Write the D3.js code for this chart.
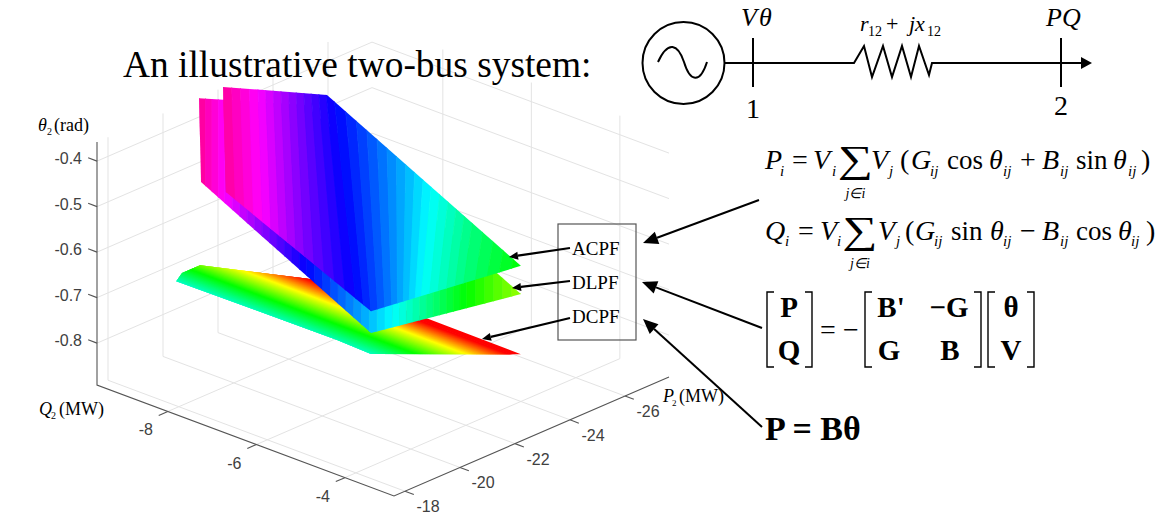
<!DOCTYPE html>
<html><head><meta charset="utf-8">
<script src="https://d3js.org/d3.v7.min.js"></script>
<style>
html,body{margin:0;padding:0;background:#fff}
svg{display:block}
text{font-family:"Liberation Serif",serif;fill:#000}
.tick{font-family:"Liberation Sans",Arial,sans-serif;fill:#404040;font-size:16px}
</style></head><body>
<svg id="c" width="1170" height="521"></svg>
<script>
// ---- axis ticks ----
const thetaTicks=[-0.8,-0.7,-0.6,-0.5,-0.4];
const qTicks=[-8,-6,-4];
const pTicks=[-26,-24,-22,-20,-18];
const thetaRange=[-0.892,-0.358];
const qRange=[-9.6,-2.89];
const pRange=[-17.6,-27.6];

// ---- surface outlines ----
const acpfP=[-21.86,-24,-24,-18.55,-18.55];
const acpfQ=[-9.4,-8.38,-4,-4,-7.28];
const acpfTheta=[-0.341,-0.378,-0.594,-0.551,-0.4085];

const dlpfP=[-20.99,-24,-24,-18.55,-18.55];
const dlpfQ=[-9.4,-8.88,-4,-4,-7.84];
const dlpfTheta=[-0.343,-0.418,-0.656,-0.599,-0.407];

const dcpfP=[-18.55,-19.55,-20.98,-24.15,-24,-18.55,-18.67];
const dcpfQ=[-8.4,-8.89,-9.37,-8.4,-4,-4,-4.84];
const dcpfTheta=[-0.645,-0.671,-0.709,-0.792,-0.788,-0.645,-0.648];

// ---- colour contours: hue, share of surface width at its top and bottom ----
const acpfHues=[323,300,270,240,210,180,150,120];
const acpfUpper=[0,.117,.245,.369,.544,.73,.90,1.12];
const acpfLower=[.023,.144,.282,.45,.567,.661,.795,.98];

const dlpfHues=[325,300,240,180,120,85];
const dlpfUpper=[0,.08,.335,.602,.832,1];
const dlpfLower=[0,.08,.335,.602,.832,1];

const dcpfHues=[170,120,60,0,0];
const dcpfUpper=[-.133,.011,.156,.28,.6];
const dcpfLower=[.555,.699,.844,.968,1.3];

const solverNames=["ACPF","DLPF","DCPF"];

// ---- projection ----
const ox=97, oy=385;
const qX=d3.scaleLinear().domain(qRange).range([0,297]);
const qY=d3.scaleLinear().domain(qRange).range([0,111]);
const pX=d3.scaleLinear().domain(pRange).range([0,275]);
const pY=d3.scaleLinear().domain(pRange).range([0,-119]);
const tY=d3.scaleLinear().domain(thetaRange).range([0,-243]);
const proj=(p,q,t)=>[ox+qX(q)+pX(p), oy+qY(q)+pY(p)+tY(t)];

const svg=d3.select("#c");
const defs=svg.append("defs");
defs.append("clipPath").attr("id","gridClip").append("rect")
  .attr("x",0).attr("y",41).attr("width",1170).attr("height",480);
const line=d3.line();

// ---- grid ----
const [tMin,tMax]=thetaRange,[qMin,qMax]=qRange,[pNear,pFar]=pRange;
const gridSegs=[];
thetaTicks.forEach(t=>gridSegs.push([[pNear,qMin,t],[pFar,qMin,t],[pFar,qMax,t]]));
pTicks.forEach(p=>gridSegs.push([[p,qMax,tMin],[p,qMin,tMin],[p,qMin,tMax]]));
qTicks.forEach(q=>gridSegs.push([[pNear,q,tMin],[pFar,q,tMin],[pFar,q,tMax]]));
svg.append("g").attr("clip-path","url(#gridClip)").selectAll("path").data(gridSegs).join("path")
  .attr("d",s=>line(s.map(a=>proj(...a))))
  .attr("fill","none").attr("stroke","#e3e3e3").attr("stroke-width",1);

// ---- axes ----
const axisG=svg.append("g").attr("stroke","#555").attr("fill","none").attr("stroke-width",1.1);
[[[pNear,qMin,tMax],[pNear,qMin,tMin],[pNear,qMax,tMin],[pFar,qMax,tMin]]].forEach(s=>
  axisG.append("path").attr("d",line(s.map(a=>proj(...a)))));
thetaTicks.forEach(t=>axisG.append("path").attr("d",line([proj(pNear,qMin,t),proj(pNear,qMin-.2,t)])));
qTicks.forEach(q=>axisG.append("path").attr("d",line([proj(pNear,q,tMin),proj(pNear+.33,q,tMin)])));
pTicks.forEach(p=>axisG.append("path").attr("d",line([proj(p,qMax,tMin),proj(p,qMax+.2,tMin)])));

thetaTicks.forEach(t=>{const [x,y]=proj(pNear,qMin,t);
  svg.append("text").attr("class","tick").attr("x",x-15).attr("y",y+3).attr("text-anchor","end").text(t.toFixed(1));});
qTicks.forEach(q=>{const [x,y]=proj(pNear,q,tMin);
  svg.append("text").attr("class","tick").attr("x",x-22).attr("y",y+24).attr("text-anchor","middle").text(q);});
pTicks.forEach(p=>{const [x,y]=proj(p,qMax,tMin);
  svg.append("text").attr("class","tick").attr("x",x+23).attr("y",y+21).attr("text-anchor","middle").text(p);});

// ---- surfaces ----
function surface(id,P,Q,T,hues,upper,lower,step){
  const pts=P.map((p,i)=>proj(p,Q[i],T[i]));
  const xs=pts.map(d=>d[0]), ys=pts.map(d=>d[1]);
  const xL=d3.min(xs), xR=d3.max(xs), yT=d3.min(ys), yB=d3.max(ys), w=xR-xL;
  defs.append("clipPath").attr("id",id).append("path").attr("d",line(pts)+"Z");
  const g=svg.append("g").attr("clip-path",`url(#${id})`);
  const idx=hues.map((_,i)=>i);
  const up=d3.scaleLinear().domain(idx).range(upper);
  const lo=d3.scaleLinear().domain(idx).range(lower);
  const hueAt=d3.scaleLinear().domain(idx).range(hues);
  const cuts=[0];
  for(let i=1;i<hues.length;i++){
    const n=Math.max(1,Math.round(Math.abs(hues[i]-hues[i-1])/step));
    for(let k=1;k<=n;k++)cuts.push(i-1+k/n);
  }
  const strip=(a,b,col)=>{
    const ext=.3;
    const yA=yT-(yB-yT)*ext, yC=yB+(yB-yT)*ext;
    const xAt=(u,l,y)=>xL+w*(u+(l-u)*(y-yT)/(yB-yT));
    g.append("path").attr("d",line([
      [xAt(a[0],a[1],yA),yA],[xAt(b[0],b[1],yA),yA],
      [xAt(b[0],b[1],yC),yC],[xAt(a[0],a[1],yC),yC]])+"Z")
      .attr("fill",col).attr("stroke",col).attr("stroke-width",.7);
  };
  const hsv=h=>d3.hsl(h,1,.5).formatHex();
  const first=[up(0),lo(0)], last=[up(idx.length-1),lo(idx.length-1)];
  strip([first[0]-.5,first[1]-.5],first,hsv(hues[0]));
  strip(last,[last[0]+.5,last[1]+.5],hsv(hues[hues.length-1]));
  for(let i=1;i<cuts.length;i++){
    const a=cuts[i-1],b=cuts[i];
    strip([up(a),lo(a)],[up(b),lo(b)],hsv(hueAt((a+b)/2)));
  }
}
surface("dcpfS",dcpfP,dcpfQ,dcpfTheta,dcpfHues,dcpfUpper,dcpfLower,1.5);
surface("dlpfS",dlpfP,dlpfQ,dlpfTheta,dlpfHues,dlpfUpper,dlpfLower,5.625);
surface("acpfS",acpfP,acpfQ,acpfTheta,acpfHues,acpfUpper,acpfLower,5.625);

// ---- arrows ----
function arrow(x1,y1,x2,y2,sw,hl,hw){
  const a=Math.atan2(y2-y1,x2-x1), c=Math.cos(a), s=Math.sin(a);
  const bx=x2-c*hl, by=y2-s*hl;
  svg.append("path").attr("d",line([[x1,y1],[bx,by]])).attr("stroke","#000").attr("stroke-width",sw).attr("fill","none");
  svg.append("path").attr("d",line([[x2,y2],[bx-s*hw,by+c*hw],[bx+s*hw,by-c*hw]])+"Z").attr("fill","#000");
}

// solver box
svg.append("rect").attr("x",558).attr("y",224).attr("width",78).attr("height",116)
  .attr("fill","none").attr("stroke","#555").attr("stroke-width",1.2);
[255,289,323].forEach((y,i)=>svg.append("text").attr("x",572).attr("y",y).attr("font-size",19).text(solverNames[i]));
arrow(570,248,509,257,2.2,9,4);
arrow(570,281,512,288,2.2,9,4);
arrow(570,318,482,339,2.2,9,4);
arrow(759,200,643,243,2,15,6.5);
arrow(762,328,642,282,2,15,6.5);
arrow(762,427,643,319,2,15,6.5);

// ---- text helper ----
function T(s,x,y,size,o={}){
  const t=svg.append("text").attr("x",x).attr("y",y).attr("font-size",size).text(s);
  if(o.i)t.attr("font-style","italic");
  if(o.b)t.attr("font-weight","bold");
  if(o.m)t.attr("text-anchor","middle");
  return t;
}
function sigma(cx,baseline){
  svg.append("text").attr("transform",`translate(${cx},${baseline}) scale(1.3,1)`)
    .attr("text-anchor","middle").attr("font-size",38).text("∑");
}
T("An illustrative two-bus system:",123,77,37.4);

// axis labels
T("θ",38,131,18,{i:1});T("2",47,135,10);T("(rad)",54,131,18);
T("Q",39,415,18,{i:1});T("2",51,419,10);T("(MW)",59,415,18);
T("P",663,402,18,{i:1});T("2",672,406,9);T("(MW)",679,402,18);

// ---- one-line diagram ----
const wire=svg.append("g").attr("fill","none").attr("stroke","#000").attr("stroke-width",2);
wire.append("circle").attr("cx",683.5).attr("cy",63).attr("r",41);
wire.append("path").attr("d","M658,62C668,40 678,44 684,62C690,82 700,84 707,62");
wire.append("path").attr("d",line([[724,63],[854,63],[864,46],[872,77],[883,46],[892,77],[902,46],[911,77],[919,46],[929,75],[932,63],[1082,63]]));
wire.append("path").attr("d",line([[753,38],[753,87]]));
wire.append("path").attr("d",line([[1061,38],[1061,87]]));
svg.append("path").attr("d",line([[1092,63],[1081,57],[1081,69]])+"Z").attr("fill","#000");
T("V",741,26,26,{i:1});T("θ",759,26,26,{i:1});
T("r",860,31,22,{i:1});T("12",868,36,14);T("+",886,31,22);T("jx",909,31,22,{i:1});T("12",927,36,14);
T("PQ",1046,26,26,{i:1});
T("1",753,118,28,{m:1});T("2",1061,115,28,{m:1});

// ---- equations ----
const ij=(x,y)=>T("ij",x,y,15,{i:1});
T("P",765,169,28,{i:1});T("i",780,176,15,{i:1});T("=",792,169,28);T("V",813,169,28,{i:1});T("i",832,176,15,{i:1});
sigma(855.5,172);T("j∈i",855.5,198,14,{i:1,m:1});
T("V",871,169,28,{i:1});T("j",889,176,15,{i:1});T("(",900,169,28);T("G",911,169,28,{i:1});ij(930,176);
T("cos",947,169,27);T("θ",989,169,28,{i:1});ij(1003,176);T("+",1020,169,28);
T("B",1042,169,28,{i:1});ij(1060,176);T("sin",1076,169,27);T("θ",1113,169,28,{i:1});ij(1128,176);T(")",1141,169,28);

T("Q",765,240,28,{i:1});T("i",785,246,15,{i:1});T("=",798,240,28);T("V",820,240,28,{i:1});T("i",837,246,15,{i:1});
sigma(860,243);T("j∈i",860,268,14,{i:1,m:1});
T("V",878,240,28,{i:1});T("j",896,246,15,{i:1});T("(",905,240,28);T("G",915,240,28,{i:1});ij(934,246);
T("sin",951,240,27);T("θ",990,240,28,{i:1});ij(1003,246);T("−",1020,240,28);
T("B",1042,240,28,{i:1});ij(1060,246);T("cos",1076,240,27);T("θ",1118,240,28,{i:1});ij(1131,246);T(")",1146,240,28);

// matrices
const br=svg.append("g").attr("fill","none").attr("stroke","#000").attr("stroke-width",1.4);
[[767,812],[865,981],[988,1034]].forEach(([a,b])=>{
  br.append("path").attr("d",line([[a+7,292],[a,292],[a,367],[a+7,367]]));
  br.append("path").attr("d",line([[b-7,292],[b,292],[b,367],[b-7,367]]));
});
const B={b:1,m:1};
T("P",789,317,29,B);T("Q",789,360,29,B);
T("=",828,339,28,{m:1});T("−",851,339,28,{m:1});
T("B'",891,317,29,B);T("−G",949,317,29,B);
T("G",889,360,29,B);T("B",950,360,29,B);
T("θ",1011,317,29,B);T("V",1011,360,29,B);
T("P = Bθ",765,440,34,{b:1});
</script>
</body></html>
